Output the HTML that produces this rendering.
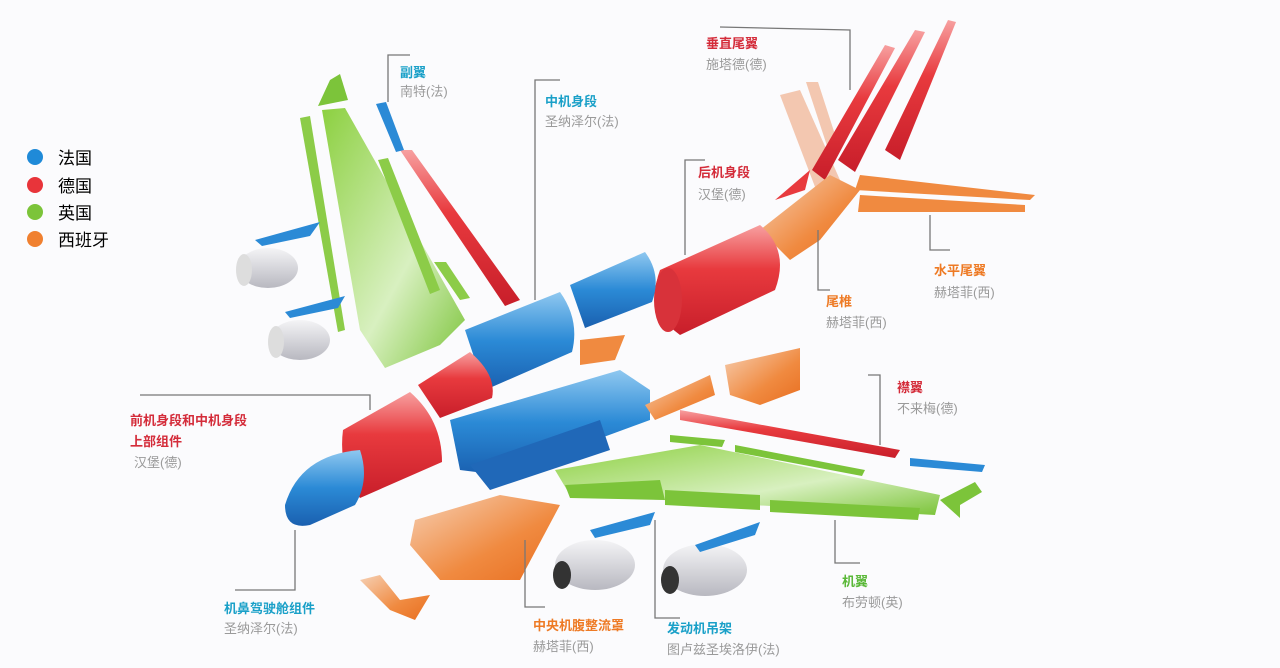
<!DOCTYPE html>
<html><head><meta charset="utf-8"><style>
html,body{margin:0;padding:0;background:#fbfbfd;}
svg{display:block}
text{font-family:"Liberation Sans","Noto Sans CJK SC",sans-serif;}
.t{font-size:13px;font-weight:bold}
.s{font-size:13px;fill:#9a9a9a}
.l{stroke:#777;stroke-width:1.3;fill:none}
</style></head><body>
<svg width="1280" height="668" viewBox="0 0 1280 668">
<defs>
<linearGradient id="gR" x1="0" y1="0" x2="0" y2="1"><stop offset="0" stop-color="#f7a0a0"/><stop offset=".4" stop-color="#e83a3e"/><stop offset="1" stop-color="#c81e2a"/></linearGradient>
<linearGradient id="gB" x1="0" y1="0" x2="0" y2="1"><stop offset="0" stop-color="#8fc8f0"/><stop offset=".5" stop-color="#2b8ad6"/><stop offset="1" stop-color="#1a60b0"/></linearGradient>
<linearGradient id="gG" x1="0" y1="0" x2="1" y2="1"><stop offset="0" stop-color="#8cd040"/><stop offset=".6" stop-color="#d8f0c0"/><stop offset="1" stop-color="#7cc43a"/></linearGradient>
<linearGradient id="gO" x1="0" y1="0" x2="1" y2="1"><stop offset="0" stop-color="#f6d0b4"/><stop offset=".6" stop-color="#f08a40"/><stop offset="1" stop-color="#e86e20"/></linearGradient>
<linearGradient id="gW" x1="0" y1="0" x2="0" y2="1"><stop offset="0" stop-color="#f4f4f6"/><stop offset="1" stop-color="#b8b8c0"/></linearGradient>
</defs>

<circle cx="35" cy="157" r="8" fill="#1f8ad8"/><text x="58" y="164" font-size="17">法国</text>
<circle cx="35" cy="185" r="8" fill="#e8343a"/><text x="58" y="192" font-size="17">德国</text>
<circle cx="35" cy="212" r="8" fill="#7cc43a"/><text x="58" y="219" font-size="17">英国</text>
<circle cx="35" cy="239" r="8" fill="#f08030"/><text x="58" y="246" font-size="17">西班牙</text>

<polygon points="322,110 345,108 465,320 440,345 385,368 360,330" fill="url(#gG)"/>
<polygon points="300,118 310,116 345,330 338,332" fill="#8ccc48"/>
<polygon points="330,80 340,74 348,100 318,106" fill="#7cc43a"/>
<polygon points="378,160 388,158 440,290 430,294" fill="#8ccc48"/>
<polygon points="400,150 412,150 520,300 505,306" fill="url(#gR)"/>
<polygon points="376,104 386,102 404,150 396,152" fill="#2b8ad6"/>
<polygon points="434,262 446,262 470,298 460,300" fill="#8ccc48"/>
<ellipse cx="268" cy="268" rx="30" ry="20" fill="url(#gW)"/><ellipse cx="244" cy="270" rx="8" ry="16" fill="#ddd"/>
<ellipse cx="300" cy="340" rx="30" ry="20" fill="url(#gW)"/><ellipse cx="276" cy="342" rx="8" ry="16" fill="#ddd"/>
<polygon points="255,240 320,222 310,236 262,246" fill="#2b8ad6"/>
<polygon points="285,312 345,296 338,308 290,318" fill="#2b8ad6"/>

<polygon points="780,95 800,90 840,180 820,200" fill="#f3c7b0"/>
<polygon points="806,82 818,82 840,150 830,155" fill="#f3c7b0"/>
<polygon points="885,45 895,48 825,180 812,170" fill="url(#gR)"/>
<polygon points="915,30 925,32 855,172 838,160" fill="url(#gR)"/>
<polygon points="948,20 956,22 900,160 885,150" fill="url(#gR)"/>
<polygon points="775,200 810,170 805,190" fill="#e83a3e"/>
<polygon points="860,175 1035,195 1030,200 855,190" fill="#f08a40"/>
<polygon points="860,195 1025,205 1025,212 858,212" fill="#f08a40"/>
<polygon points="760,230 830,175 860,190 820,240 790,260" fill="url(#gO)"/>

<path d="M660,270 L760,225 Q790,250 775,290 L680,335 Q645,310 660,270Z" fill="url(#gR)"/>
<ellipse cx="668" cy="300" rx="14" ry="32" fill="#d8323a"/>
<path d="M570,285 L645,252 Q662,275 652,302 L585,328 Z" fill="url(#gB)"/>
<path d="M465,330 L560,292 Q580,320 572,352 L485,390 Z" fill="url(#gB)"/>
<path d="M418,385 L470,352 Q497,375 492,398 L440,418 Z" fill="url(#gR)"/>
<path d="M343,430 L410,392 Q442,420 442,462 L360,498 Q338,470 343,430Z" fill="url(#gR)"/>
<path d="M360,450 Q300,455 285,505 Q285,530 310,525 L355,505 Q370,480 360,450Z" fill="url(#gB)"/>
<polygon points="450,420 620,370 650,390 650,420 500,475 460,470" fill="url(#gB)"/>
<polygon points="470,465 600,420 610,450 490,490" fill="#2068b8"/>
<polygon points="415,520 500,495 560,505 520,580 440,580 410,545" fill="url(#gO)"/>
<polygon points="360,580 380,575 400,600 430,595 415,620 390,610" fill="url(#gO)"/>
<polygon points="725,365 800,348 800,390 760,405 730,395" fill="url(#gO)"/>
<polygon points="645,405 710,375 715,395 655,420" fill="url(#gO)"/>
<polygon points="580,340 625,335 615,360 580,365" fill="#f08a40"/>

<polygon points="555,470 700,445 940,495 935,515 570,495" fill="url(#gG)"/>
<polygon points="565,485 660,480 665,500 570,498" fill="#7cc43a"/>
<polygon points="665,490 760,495 760,510 665,505" fill="#7cc43a"/>
<polygon points="770,500 920,508 918,520 770,512" fill="#7cc43a"/>
<polygon points="680,410 900,450 895,458 680,420" fill="url(#gR)"/>
<polygon points="670,435 725,440 722,447 670,442" fill="#7cc43a"/>
<polygon points="735,445 865,470 862,476 735,452" fill="#7cc43a"/>
<polygon points="910,458 985,465 982,472 910,466" fill="#2b8ad6"/>
<polygon points="940,500 975,482 982,492 960,505 960,518" fill="#7cc43a"/>
<ellipse cx="595" cy="565" rx="40" ry="25" fill="url(#gW)"/><ellipse cx="562" cy="575" rx="9" ry="14" fill="#333"/>
<ellipse cx="705" cy="570" rx="42" ry="26" fill="url(#gW)"/><ellipse cx="670" cy="580" rx="9" ry="14" fill="#333"/>
<polygon points="590,530 655,512 650,525 595,538" fill="#2b8ad6"/>
<polygon points="695,545 760,522 755,535 700,552" fill="#2b8ad6"/>

<polyline class="l" points="140,395 370,395 370,410"/>
<polyline class="l" points="235,590 295,590 295,530"/>
<polyline class="l" points="535,300 535,80 560,80"/>
<polyline class="l" points="525,540 525,607 545,607"/>
<polyline class="l" points="655,520 655,618 680,618"/>
<polyline class="l" points="685,255 685,160 705,160"/>
<polyline class="l" points="850,90 850,30 720,27"/>
<polyline class="l" points="818,230 818,290 830,290"/>
<polyline class="l" points="930,215 930,250 950,250"/>
<polyline class="l" points="880,445 880,375 868,375"/>
<polyline class="l" points="835,520 835,563 860,563"/>
<polyline class="l" points="388,102 388,55 410,55"/>

<text class="t" x="400" y="77" fill="#1aa0c8">副翼</text><text class="s" x="400" y="96">南特(法)</text>
<text class="t" x="545" y="106" fill="#1aa0c8">中机身段</text><text class="s" x="545" y="126">圣纳泽尔(法)</text>
<text class="t" x="706" y="48" fill="#d42c3a">垂直尾翼</text><text class="s" x="706" y="69">施塔德(德)</text>
<text class="t" x="698" y="177" fill="#d42c3a">后机身段</text><text class="s" x="698" y="199">汉堡(德)</text>
<text class="t" x="934" y="275" fill="#ee7a24">水平尾翼</text><text class="s" x="934" y="297">赫塔菲(西)</text>
<text class="t" x="826" y="306" fill="#ee7a24">尾椎</text><text class="s" x="826" y="327">赫塔菲(西)</text>
<text class="t" x="897" y="392" fill="#d42c3a">襟翼</text><text class="s" x="897" y="413">不来梅(德)</text>
<text class="t" x="130" y="425" fill="#d42c3a">前机身段和中机身段</text>
<text class="t" x="130" y="446" fill="#d42c3a">上部组件</text><text class="s" x="134" y="467">汉堡(德)</text>
<text class="t" x="224" y="613" fill="#1aa0c8">机鼻驾驶舱组件</text><text class="s" x="224" y="633">圣纳泽尔(法)</text>
<text class="t" x="533" y="630" fill="#ee7a24">中央机腹整流罩</text><text class="s" x="533" y="651">赫塔菲(西)</text>
<text class="t" x="667" y="633" fill="#1aa0c8">发动机吊架</text><text class="s" x="667" y="654">图卢兹圣埃洛伊(法)</text>
<text class="t" x="842" y="586" fill="#5ab838">机翼</text><text class="s" x="842" y="607">布劳顿(英)</text>
</svg>
</body></html>
